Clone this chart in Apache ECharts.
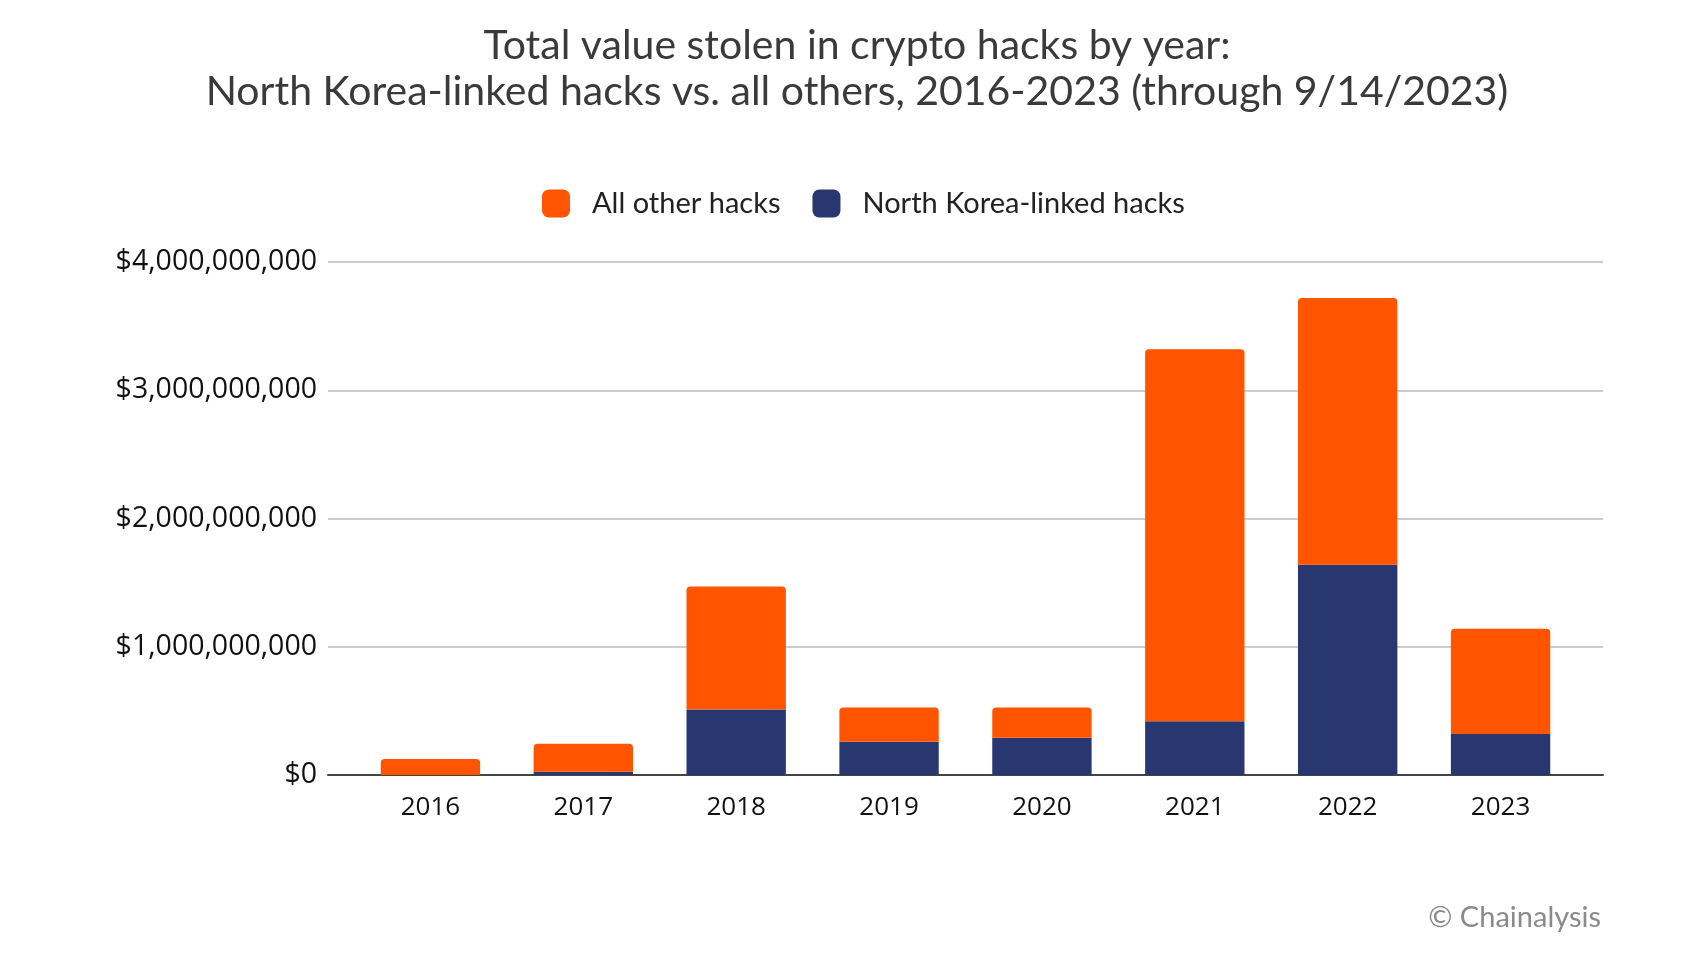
<!DOCTYPE html>
<html>
<head>
<meta charset="utf-8">
<script src="https://cdn.jsdelivr.net/npm/echarts@6/dist/echarts.min.js"></script>
<style>
html,body{margin:0;padding:0;background:#fff;}
#chart{width:1684px;height:978px;}
</style>
</head>
<body>
<div id="chart"></div>
<script>
const years = ['2016','2017','2018','2019','2020','2021','2022','2023'];
const northKorea = [0, 25000000, 510000000, 260000000, 290000000, 420000000, 1640000000, 320000000];
const allOther = [125000000, 218000000, 960000000, 267000000, 237000000, 2900000000, 2080000000, 820000000];
const yTicks = [0, 1000000000, 2000000000, 3000000000, 4000000000];

const chart = echarts.init(document.getElementById('chart'));
function fmt(v){ return '$' + v.toLocaleString('en-US'); }
chart.setOption({
  backgroundColor: '#ffffff',
  animation: false,
  title: [{
    text: 'Total value stolen in crypto hacks by year:\nNorth Korea-linked hacks vs. all others, 2016-2023 (through 9/14/2023)',
    left: 852, top: 18, textAlign: 'center',
    textStyle: {fontFamily: 'Lato', fontWeight: 'normal', fontSize: 41, lineHeight: 46, color: '#3a3a3a'}
  },{
    text: '© Chainalysis',
    right: 78, top: 898,
    textStyle: {fontFamily: 'Lato', fontWeight: 'normal', fontSize: 29, color: '#8a8a8a'}
  }],
  legend: {
    data: ['All other hacks', 'North Korea-linked hacks'],
    top: 184, left: 537,
    itemWidth: 28, itemHeight: 28, itemGap: 32,
    icon: 'roundRect',
    textStyle: {fontFamily: 'Lato', fontSize: 29, color: '#222', padding: [0,0,0,17]}
  },
  grid: [
    {left: 328, right: 81, top: 262, bottom: 203, containLabel: false},
    {left: 354, right: 107, top: 262, bottom: 203, containLabel: false}
  ],
  xAxis: [{
    gridIndex: 0, type: 'category', data: years,
    axisLine: {lineStyle: {color: '#444', width: 2}},
    axisTick: {show: false}, axisLabel: {show: false}
  },{
    gridIndex: 1, type: 'category', data: years,
    axisLine: {show: false}, axisTick: {show: false},
    axisLabel: {fontFamily: 'Open Sans', fontSize: 26, color: '#111', margin: 20}
  }],
  yAxis: [{
    gridIndex: 0, type: 'value', min: 0, max: 4000000000, interval: 1000000000,
    axisLine: {show: false}, axisTick: {show: false},
    splitLine: {lineStyle: {color: '#cccccc', width: 2}},
    axisLabel: {fontFamily: 'Open Sans', fontSize: 28.5, color: '#111', margin: 11,
      formatter: v => yTicks.includes(v) ? fmt(v) : ''}
  },{
    gridIndex: 1, type: 'value', min: 0, max: 4000000000, interval: 1000000000,
    axisLine: {show: false}, axisTick: {show: false},
    splitLine: {show: false}, axisLabel: {show: false}
  }],
  series: [{
    name: 'North Korea-linked hacks', type: 'bar', stack: 'total',
    xAxisIndex: 1, yAxisIndex: 1,
    data: northKorea, barCategoryGap: '35%',
    itemStyle: {color: '#283770'}
  },{
    name: 'All other hacks', type: 'bar', stack: 'total',
    xAxisIndex: 1, yAxisIndex: 1,
    data: allOther, barCategoryGap: '35%',
    itemStyle: {color: '#ff5500', borderRadius: [4,4,0,0]}
  }]
});
</script>
</body>
</html>
